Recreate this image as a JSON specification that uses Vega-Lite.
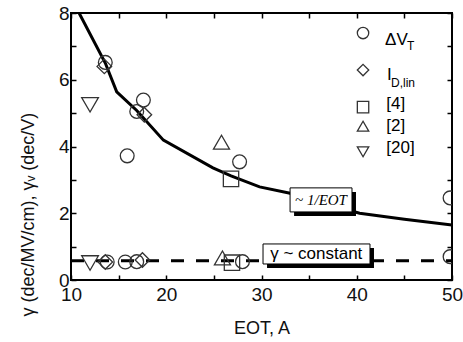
{
  "$schema": "https://vega.github.io/schema/vega-lite/v6.json",
  "width": 381,
  "height": 267,
  "autosize": "none",
  "padding": {"left": 71, "top": 13, "right": 11, "bottom": 62},
  "background": "white",
  "config": {
    "view": {"stroke": "black", "strokeWidth": 2},
    "font": "Liberation Sans",
    "axis": {"grid": false, "domain": false, "tickColor": "black", "tickWidth": 1.5, "labelColor": "#111", "titleColor": "#111", "titleFontWeight": "normal", "labelFont": "Liberation Sans", "titleFont": "Liberation Sans"}
  },
  "datasets": {
    "pts": [
      {"eot": 13.6, "g": 6.52, "s": "dVT"},
      {"eot": 17.6, "g": 5.39, "s": "dVT"},
      {"eot": 16.9, "g": 5.05, "s": "dVT"},
      {"eot": 15.9, "g": 3.72, "s": "dVT"},
      {"eot": 27.7, "g": 3.54, "s": "dVT"},
      {"eot": 49.8, "g": 2.46, "s": "dVT"},
      {"eot": 49.8, "g": 0.7, "s": "dVT"},
      {"eot": 13.8, "g": 0.54, "s": "dVT"},
      {"eot": 15.7, "g": 0.54, "s": "dVT"},
      {"eot": 16.9, "g": 0.55, "s": "dVT"},
      {"eot": 28.0, "g": 0.55, "s": "dVT"},
      {"eot": 13.5, "g": 6.4, "s": "IDlin"},
      {"eot": 17.7, "g": 4.95, "s": "IDlin"},
      {"eot": 13.6, "g": 0.54, "s": "IDlin"},
      {"eot": 17.5, "g": 0.6, "s": "IDlin"},
      {"eot": 26.8, "g": 3.03, "s": "[4]"},
      {"eot": 26.9, "g": 0.52, "s": "[4]"},
      {"eot": 25.8, "g": 4.13, "s": "[2]"},
      {"eot": 25.9, "g": 0.66, "s": "[2]"},
      {"eot": 12.0, "g": 5.25, "s": "[20]"},
      {"eot": 12.0, "g": 0.51, "s": "[20]"}
    ],
    "fit": [
      {"eot": 10.85, "g": 8.0},
      {"eot": 13.6, "g": 6.5},
      {"eot": 14.8, "g": 5.64},
      {"eot": 16.9, "g": 5.08},
      {"eot": 19.7, "g": 4.19},
      {"eot": 24.9, "g": 3.36},
      {"eot": 26.8, "g": 3.12},
      {"eot": 29.8, "g": 2.79},
      {"eot": 33.0, "g": 2.6},
      {"eot": 36.5, "g": 2.3},
      {"eot": 40.3, "g": 2.0},
      {"eot": 45.0, "g": 1.82},
      {"eot": 50.0, "g": 1.65}
    ],
    "const": [
      {"eot": 10, "g": 0.58},
      {"eot": 50, "g": 0.58}
    ],
    "boxes": [
      {"x1": 33.0, "x2": 39.5, "y1": 2.04, "y2": 2.76, "tx": 36.25, "ty": 2.4, "label": "~ 1/EOT", "kind": "fit"},
      {"x1": 30.16, "x2": 41.39, "y1": 0.48, "y2": 1.08, "tx": 35.75, "ty": 0.78, "label": "γ ~ constant", "kind": "const"}
    ],
    "legsym": [
      {"x": 40.66, "y": 7.4, "ls": "dVT"},
      {"x": 40.66, "y": 6.29, "ls": "IDlin"},
      {"x": 40.66, "y": 5.18, "ls": "[4]"},
      {"x": 40.66, "y": 4.61, "ls": "[2]"},
      {"x": 40.66, "y": 3.84, "ls": "[20]"}
    ],
    "legmain": [
      {"x": 42.97, "y": 7.19, "t": "ΔV"},
      {"x": 43.18, "y": 6.14, "t": "I"},
      {"x": 43.1, "y": 5.26, "t": "[4]"},
      {"x": 43.1, "y": 4.6, "t": "[2]"},
      {"x": 43.1, "y": 3.96, "t": "[20]"}
    ],
    "legsub": [
      {"x": 45.28, "y": 7.01, "t": "T"},
      {"x": 43.6, "y": 5.9, "t": "D,lin"}
    ]
  },
  "layer": [
    {
      "data": {"name": "const"},
      "mark": {"type": "line", "color": "black", "strokeWidth": 3, "strokeDash": [13, 12]},
      "encoding": {
        "x": {"field": "eot", "type": "quantitative", "scale": {"domain": [10, 50], "nice": false},
          "axis": {"orient": "bottom", "values": [10, 15, 20, 25, 30, 35, 40, 45, 50], "labelExpr": "datum.value % 10 === 0 ? datum.label : ''", "labelFontSize": 19, "tickSize": -5, "labelPadding": 10, "labelFlush": false, "title": "EOT, A", "titleFontSize": 18, "titlePadding": 15}},
        "y": {"field": "g", "type": "quantitative", "scale": {"domain": [0, 8], "nice": false},
          "axis": {"orient": "left", "values": [0, 1, 2, 3, 4, 5, 6, 7, 8], "labelExpr": "datum.value % 2 === 0 ? datum.label : ''", "labelFontSize": 19, "tickSize": -5, "labelPadding": 7, "labelFlush": false, "title": "γ (dec/MV/cm),  γᵥ (dec/V)", "titleFontSize": 18, "titleX": -43, "titleY": 303, "titleAlign": "left", "titleBaseline": "middle", "titleAngle": -90}}
      }
    },
    {
      "data": {"name": "fit"},
      "mark": {"type": "line", "color": "black", "strokeWidth": 3, "clip": true},
      "encoding": {
        "x": {"field": "eot", "type": "quantitative", "scale": {"domain": [10, 50], "nice": false},
          "axis": {"orient": "top", "values": [10, 15, 20, 25, 30, 35, 40, 45, 50], "labels": false, "tickSize": -5, "title": null}},
        "y": {"field": "g", "type": "quantitative", "scale": {"domain": [0, 8], "nice": false},
          "axis": {"orient": "right", "values": [0, 1, 2, 3, 4, 5, 6, 7, 8], "labels": false, "tickSize": -5, "title": null}}
      }
    },
    {
      "data": {"name": "pts"},
      "mark": {"type": "point", "filled": false, "stroke": "#333", "strokeWidth": 1.3, "opacity": 1, "clip": true},
      "encoding": {
        "x": {"field": "eot", "type": "quantitative", "axis": null},
        "y": {"field": "g", "type": "quantitative", "axis": null},
        "shape": {"field": "s", "type": "nominal", "legend": null, "scale": {"domain": ["dVT", "IDlin", "[4]", "[2]", "[20]"], "range": ["circle", "diamond", "square", "triangle-up", "triangle-down"]}},
        "size": {"field": "s", "type": "nominal", "legend": null, "scale": {"domain": ["dVT", "IDlin", "[4]", "[2]", "[20]"], "range": [190, 280, 150, 270, 260]}}
      }
    },
    {
      "data": {"name": "boxes"},
      "mark": {"type": "rect", "color": "black", "xOffset": 4, "x2Offset": 4, "yOffset": 4, "y2Offset": 4},
      "encoding": {
        "x": {"field": "x1", "type": "quantitative", "axis": null},
        "x2": {"field": "x2"},
        "y": {"field": "y1", "type": "quantitative", "axis": null},
        "y2": {"field": "y2"}
      }
    },
    {
      "data": {"name": "boxes"},
      "mark": {"type": "rect", "fill": "white", "stroke": "black", "strokeWidth": 1},
      "encoding": {
        "x": {"field": "x1", "type": "quantitative", "axis": null},
        "x2": {"field": "x2"},
        "y": {"field": "y1", "type": "quantitative", "axis": null},
        "y2": {"field": "y2"}
      }
    },
    {
      "data": {"name": "boxes"},
      "transform": [{"filter": "datum.kind === 'fit'"}],
      "mark": {"type": "text", "font": "Liberation Serif", "fontStyle": "italic", "fontSize": 15, "color": "black", "align": "center", "baseline": "middle"},
      "encoding": {
        "x": {"field": "tx", "type": "quantitative", "axis": null},
        "y": {"field": "ty", "type": "quantitative", "axis": null},
        "text": {"field": "label"}
      }
    },
    {
      "data": {"name": "boxes"},
      "transform": [{"filter": "datum.kind === 'const'"}],
      "mark": {"type": "text", "font": "Liberation Sans", "fontSize": 17, "color": "black", "align": "center", "baseline": "middle"},
      "encoding": {
        "x": {"field": "tx", "type": "quantitative", "axis": null},
        "y": {"field": "ty", "type": "quantitative", "axis": null},
        "text": {"field": "label"}
      }
    },
    {
      "data": {"name": "legsym"},
      "mark": {"type": "point", "filled": false, "stroke": "#333", "strokeWidth": 1.3, "opacity": 1, "size": 130},
      "encoding": {
        "x": {"field": "x", "type": "quantitative", "axis": null},
        "y": {"field": "y", "type": "quantitative", "axis": null},
        "shape": {"field": "ls", "type": "nominal", "legend": null, "scale": {"domain": ["dVT", "IDlin", "[4]", "[2]", "[20]"], "range": ["circle", "diamond", "square", "triangle-up", "triangle-down"]}}
      }
    },
    {
      "data": {"name": "legmain"},
      "mark": {"type": "text", "fontSize": 17, "color": "black", "align": "left", "baseline": "middle"},
      "encoding": {
        "x": {"field": "x", "type": "quantitative", "axis": null},
        "y": {"field": "y", "type": "quantitative", "axis": null},
        "text": {"field": "t"}
      }
    },
    {
      "data": {"name": "legsub"},
      "mark": {"type": "text", "fontSize": 12, "color": "black", "align": "left", "baseline": "middle"},
      "encoding": {
        "x": {"field": "x", "type": "quantitative", "axis": null},
        "y": {"field": "y", "type": "quantitative", "axis": null},
        "text": {"field": "t"}
      }
    }
  ],
  "resolve": {"axis": {"x": "independent", "y": "independent"}, "scale": {"shape": "independent"}}
}
